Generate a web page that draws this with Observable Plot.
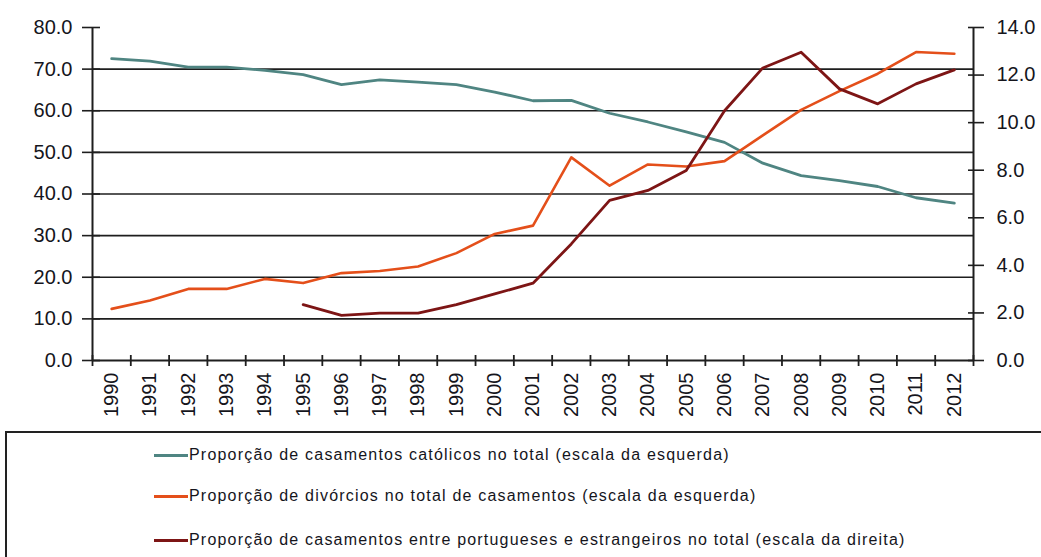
<!DOCTYPE html>
<html><head><meta charset="utf-8">
<script src="https://cdn.jsdelivr.net/npm/d3@7"></script>
<script src="https://cdn.jsdelivr.net/npm/@observablehq/plot@0.6"></script>
<style>
body{margin:0;background:#fff;overflow:hidden;width:1041px;height:557px;position:relative;font-family:"Liberation Sans",Arial,sans-serif}
#chart{position:absolute;left:0;top:0}
#legend{position:absolute;left:5px;top:431px;width:1100px;height:200px;border:2px solid #222;box-sizing:border-box}
.item{position:absolute;left:147px;height:20px;display:flex;align-items:center;font-size:16px;letter-spacing:1.2px;color:#15151c;white-space:nowrap}
.sw{width:34px;height:3px;margin-right:1px;flex:none}
</style></head><body>
<div id="chart"></div>
<div id="legend"></div>
<script>
const years = [1990,1991,1992,1993,1994,1995,1996,1997,1998,1999,2000,2001,2002,2003,2004,2005,2006,2007,2008,2009,2010,2011,2012];
const catolicos = [72.5,71.9,70.5,70.5,69.7,68.7,66.3,67.4,66.9,66.3,64.5,62.4,62.5,59.4,57.3,54.9,52.4,47.4,44.4,43.2,41.8,39.1,37.8];
const divorcios = [12.4,14.4,17.2,17.2,19.6,18.6,21.0,21.5,22.6,25.8,30.4,32.4,48.8,42.0,47.1,46.6,47.9,54.1,60.2,64.7,68.9,74.1,73.7];
const yearsMistos = [1995,1996,1997,1998,1999,2000,2001,2002,2003,2004,2005,2006,2007,2008,2009,2010,2011,2012];
const mistos = [2.35,1.9,1.99,1.99,2.35,2.8,3.25,4.9,6.73,7.15,7.99,10.5,12.3,12.96,11.42,10.79,11.63,12.22];
const leftTicks = [0,10,20,30,40,50,60,70,80];
const rightTicks = [0,2,4,6,8,10,12,14];
const leftMax = 80, rightMax = 14;
const seriesNames = [
  "Proporção de casamentos católicos no total (escala da esquerda)",
  "Proporção de divórcios no total de casamentos (escala da esquerda)",
  "Proporção de casamentos entre portugueses e estrangeiros no total (escala da direita)"
];
const seriesColors = ["#4f8582", "#e44f1a", "#7d1515"];

const k = leftMax / rightMax;
const dCat = years.map((y, i) => ({year: y, value: catolicos[i]}));
const dDiv = years.map((y, i) => ({year: y, value: divorcios[i]}));
const dMis = yearsMistos.map((y, i) => ({year: y, value: mistos[i] * k}));
const xLo = years[0] - 0.5, xHi = years[years.length - 1] + 0.5;
const xEdges = years.map(y => y - 0.5).concat([xHi]);
const rightPos = rightTicks.map(v => v * k);
const axisColor = "#1e1e1e";

const chart = Plot.plot({
  width: 1041, height: 425,
  marginLeft: 92, marginRight: 68, marginTop: 27, marginBottom: 65,
  x: {domain: [xLo, xHi]},
  y: {domain: [0, leftMax]},
  style: {fontFamily: "'Liberation Sans', Arial, sans-serif", color: "#15151c", background: "white", overflow: "visible"},
  marks: [
    Plot.gridY(leftTicks.filter(t => t > 0 && t < leftMax), {stroke: axisColor, strokeOpacity: 1, strokeWidth: 1.6}),
    Plot.ruleY([0], {stroke: axisColor, strokeWidth: 2}),
    Plot.ruleX([xLo, xHi], {stroke: axisColor, strokeWidth: 2}),
    Plot.axisY(leftTicks, {anchor: "left", tickSize: 10, tickPadding: 10, tickFormat: d => d.toFixed(1), fontSize: 20, label: null, stroke: axisColor, strokeWidth: 1.6}),
    Plot.axisY(leftTicks, {anchor: "left", tickSize: -8, tickFormat: () => "", label: null, stroke: axisColor, strokeWidth: 1.6}),
    Plot.axisY(rightPos, {anchor: "right", tickSize: 10, tickPadding: 13, tickFormat: d => (d / k).toFixed(1), fontSize: 20, label: null, stroke: axisColor, strokeWidth: 1.6}),
    Plot.axisY(rightPos, {anchor: "right", tickSize: -6, tickFormat: () => "", label: null, stroke: axisColor, strokeWidth: 1.6}),
    Plot.axisX(xEdges, {tickSize: 6, tickFormat: () => "", label: null, stroke: axisColor, strokeWidth: 1.8}),
    Plot.axisX(xEdges, {tickSize: -5, tickFormat: () => "", label: null, stroke: axisColor, strokeWidth: 1.8}),
    Plot.axisX(years, {tickSize: 0, tickPadding: 12, tickRotate: -90, tickFormat: d => String(d), fontSize: 20, label: null}),
    Plot.line(dCat, {x: "year", y: "value", stroke: seriesColors[0], strokeWidth: 2.8}),
    Plot.line(dDiv, {x: "year", y: "value", stroke: seriesColors[1], strokeWidth: 2.6}),
    Plot.line(dMis, {x: "year", y: "value", stroke: seriesColors[2], strokeWidth: 2.8})
  ]
});
document.getElementById("chart").appendChild(chart);

const legendTops = [12, 53, 97];
const legend = document.getElementById("legend");
seriesNames.forEach((name, i) => {
  const item = document.createElement("div");
  item.className = "item";
  item.style.top = legendTops[i] + "px";
  const sw = document.createElement("span");
  sw.className = "sw";
  sw.style.background = seriesColors[i];
  const tx = document.createElement("span");
  tx.textContent = name;
  item.appendChild(sw);
  item.appendChild(tx);
  legend.appendChild(item);
});
</script>
</body></html>
